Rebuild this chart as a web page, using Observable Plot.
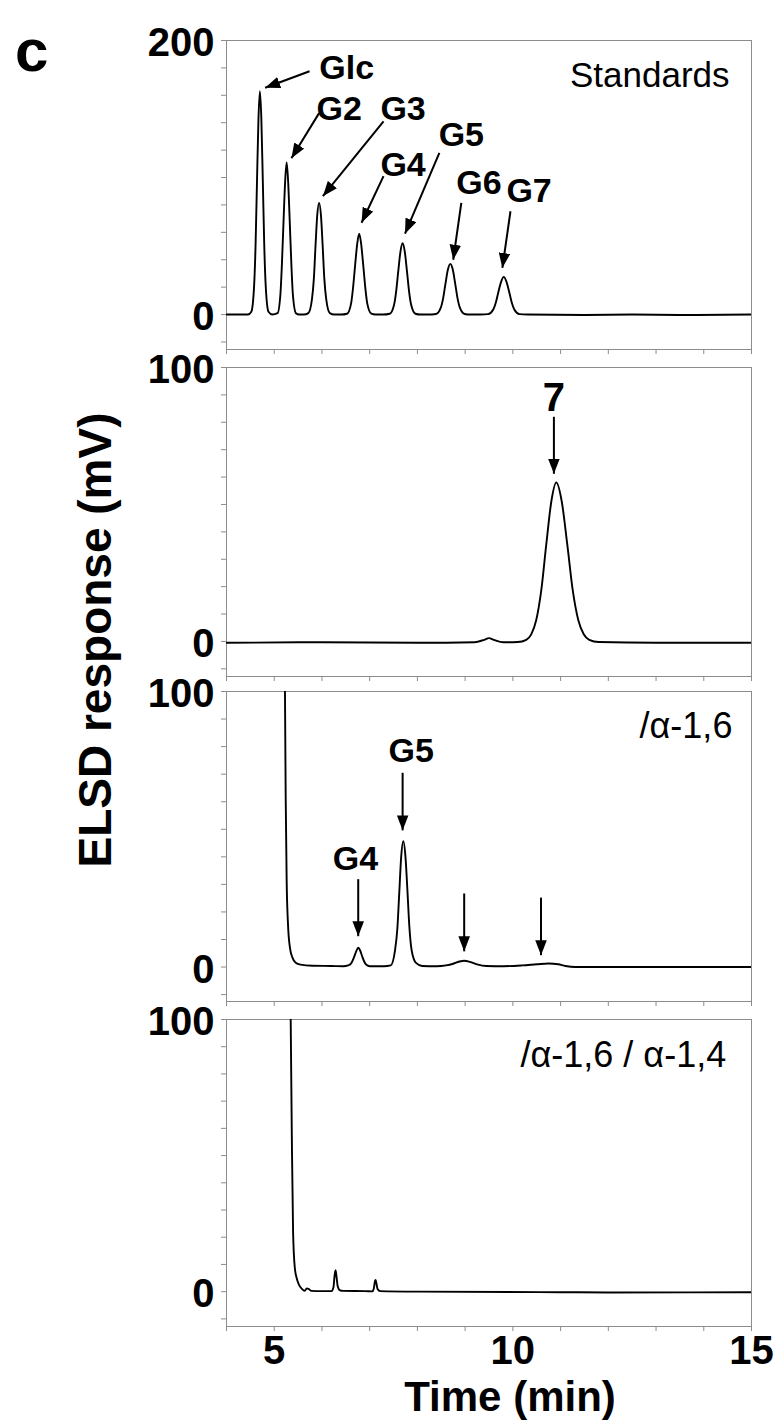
<!DOCTYPE html>
<html><head><meta charset="utf-8">
<script src="https://cdn.jsdelivr.net/npm/d3@7"></script>
<script src="https://cdn.jsdelivr.net/npm/@observablehq/plot@0.6"></script>
<style>
body{margin:0;background:#fff;}
#wrap{position:relative;width:780px;height:1422px;overflow:hidden;font-family:"Liberation Sans",Arial,sans-serif;color:#000;}
.abs{position:absolute;white-space:nowrap;font-weight:bold;}
.abs svg{display:block;}
</style></head><body><div id="wrap"></div>
<script>
// ---------- data ----------
// Panel 1: Standards
const stdTime = [4.0,4.45,4.52,4.58,4.61,4.64,4.67,4.70,4.73,4.76,4.79,4.82,4.88,4.96,
  5.07,5.13,5.16,5.195,5.23,5.26,5.29,5.325,5.36,5.39,5.455,5.52,
  5.62,5.715,5.79,5.83,5.865,5.90,5.94,5.98,6.015,6.05,6.09,6.165,6.26,
  6.40,6.525,6.61,6.65,6.695,6.74,6.78,6.82,6.865,6.91,6.95,7.035,7.12,
  7.28,7.42,7.51,7.555,7.60,7.645,7.69,7.735,7.78,7.825,7.87,7.96,8.06,
  8.22,8.39,8.49,8.54,8.59,8.64,8.69,8.74,8.79,8.84,8.89,8.99,9.1,
  9.32,9.48,9.59,9.645,9.70,9.755,9.81,9.865,9.92,9.975,10.03,10.14,10.3,
  11.5,12.5,13.5,15.0];
const stdResp = [0,0,2,22,52,99,143,163,143,99,52,22,2,0,
  1,15,36,68,98,111,98,68,36,15,1,0,
  0,1,11,26,50,72,81.5,72,50,26,11,1,0,
  0,0.6,8,19,36,52,59,52,36,19,8,0.6,0,
  0,0.6,7,17,32,46,52,46,32,17,7,0.6,0,
  0,0.4,5,12,23,33,37,33,23,12,5,0.4,0,
  0,0.3,3.7,9,17,24,27.5,24,17,9,3.7,0.3,0,
  -0.3,0,-0.3,0];
// Panel 2: compound 7
const c7Time = [4.0,6.0,8.0,9.2,9.4,9.5,9.6,9.8,10.1,10.28,10.385,10.49,10.595,10.70,10.805,10.91,
  11.025,11.14,11.255,11.37,11.485,11.6,11.8,13.0,15.0];
const c7Resp = [-0.5,-0.3,-0.5,-0.3,0.6,1.2,0.6,-0.3,-0.2,0.6,2.6,7.8,18.6,35.4,51,58,
  51,35.4,18.6,7.8,2.6,0.6,-0.2,-0.5,-0.5];
// Panel 3: /α-1,6
const a16Time = [5.20,5.225,5.24,5.26,5.29,5.33,5.38,5.45,5.55,5.8,6.2,6.45,6.55,6.62,6.67,6.72,6.76,6.80,6.84,6.88,6.93,7.0,7.30,
  7.44,7.53,7.58,7.62,7.66,7.705,7.75,7.79,7.83,7.88,7.97,8.1,
  8.4,8.6,8.75,8.88,8.98,9.1,9.25,9.45,9.8,10.2,10.5,10.75,10.95,11.1,11.3,15.0];
const a16Resp = [140,100,62,32,15,7,3.5,1.6,0.9,0.5,0.4,0.3,0.6,1.6,3.5,5.8,7,6,4,2.2,0.8,0.3,0.3,
  0.6,6,14,27,40,45.7,40,28,15,6,1.5,0.4,
  0.3,0.6,1.2,2.0,2.3,1.9,1.0,0.4,0.3,0.6,1.0,1.3,1.0,0.4,0,0];
// Panel 4: /α-1,6 / α-1,4
const a1614Time = [5.33,5.345,5.37,5.395,5.43,5.47,5.52,5.58,5.64,5.68,5.72,5.78,6.0,6.20,6.24,6.265,6.285,6.305,6.33,6.37,6.45,
  6.9,7.06,7.09,7.11,7.125,7.14,7.165,7.22,8.0,11.0,12.0,15.0];
const a1614Resp = [140,100,55,22,9,5,2.5,1,0.3,1.2,1.0,0.3,0.2,0.2,1.5,6,7.9,5.5,2,0.6,0.3,
  0.2,0.1,1.5,3.8,4.3,3.2,1.0,0.2,0,-0.2,-0.3,-0.2];

// annotation labels and arrows
const stdLabels = ["Glc","G2","G3","G4","G5","G6","G7"];
const stdLabelX = [6.52,6.36,7.70,7.70,8.92,9.29,10.34];
const stdLabelY = [180,150,150,109,131,96,90];
const stdArrowFrom = [[5.74,177.6],[5.94,147],[7.29,141],[7.29,101],[8.46,118],[8.92,81.5],[9.95,75.4]];
const stdArrowTo   = [[4.81,165.5],[5.36,114],[6.02,86.4],[6.83,67],[7.74,59],[8.75,40],[9.78,34]];

const c7Labels = ["7"]; const c7LabelX = [10.86]; const c7LabelY = [88.7];
const c7ArrowFrom = [[10.86,82]]; const c7ArrowTo = [[10.86,61.2]];

const a16Labels = ["G4","G5"]; const a16LabelX = [6.70,7.87]; const a16LabelY = [39,78.2];
const a16ArrowFrom = [[6.76,31.9],[7.69,70.5],[8.98,26.7],[10.59,25.2]];
const a16ArrowTo   = [[6.76,11.2],[7.69,49.6],[8.98,5.7],[10.59,4.3]];

const panelTitles = ["Standards","","/α-1,6","/α-1,6 / α-1,4"];
const panelTitleX = [14.54,null,14.6,14.47];
const panelTitleY = [174,null,87.3,86.8];

const xDomain = [4,15];
const xMinorTicks = [4,5,6,7,8,9,10,11,12,13,14,15];
const xTickLabels = [5,10,15];

// ---------- drawing ----------
const wrap = document.getElementById("wrap");
const FONT = "'Liberation Sans', Arial, Helvetica, sans-serif";
const noLabel = () => "";

function zip(xs, ys){ return xs.map((x,i)=>({t:x, v:ys[i]})); }

function fixMarkers(svg){
  svg.querySelectorAll("marker").forEach(m=>{
    m.setAttribute("viewBox","-15 -6 15 12");
    m.setAttribute("markerUnits","userSpaceOnUse");
    m.setAttribute("markerWidth","15");
    m.setAttribute("markerHeight","12");
    m.setAttribute("fill","black");
    m.setAttribute("stroke","none");
    const p = m.querySelector("path");
    if (p) p.setAttribute("d","M0,0L-15,-5.8L-15,5.8Z");
  });
}

function panel(cfg){
  const data = zip(cfg.t, cfg.v);
  const arrows = cfg.from.map((f,i)=>({x1:f[0],y1:f[1],x2:cfg.to[i][0],y2:cfg.to[i][1]}));
  const labels = cfg.labels.map((s,i)=>({s, x:cfg.lx[i], y:cfg.ly[i]}));
  const title = cfg.title ? [{s:cfg.title, x:cfg.titleX, y:cfg.titleY}] : [];
  const yMinor = d3.range(cfg.yDomain[0] < -20 ? -20 : -10, cfg.yMax + 0.001, cfg.yStep);
  const svg = Plot.plot({
    width: 780, height: cfg.height,
    marginLeft: 226, marginRight: 29, marginTop: cfg.mt, marginBottom: cfg.mb,
    x: {domain: xDomain},
    y: {domain: cfg.yDomain},
    style: {background:"transparent", overflow:"visible", fontFamily: FONT, fontWeight:"bold", fontSize:"40px", color:"black"},
    marks: [
      Plot.axisY(yMinor, {tickSize:5, stroke:"#8c8c8c", tickFormat:noLabel, label:null}),
      Plot.axisY([0, cfg.yMax], {tickSize:0, tickPadding:12, label:null, dy:3}),
      Plot.axisX(xMinorTicks, {tickSize:5, stroke:"#8c8c8c", tickFormat:noLabel, label:null}),
      cfg.xLabels ? Plot.axisX(xTickLabels, {tickSize:0, tickPadding:9, label:null}) : null,
      Plot.frame({stroke:"#8c8c8c", strokeWidth:1}),
      Plot.line(data, {x:"t", y:"v", stroke:"black", strokeWidth:1.9, curve:"monotone-x", clip:true}),
      Plot.link(arrows, {x1:"x1", y1:"y1", x2:"x2", y2:"y2", stroke:"black", strokeWidth:2, markerEnd:"arrow"}),
      Plot.text(labels, {x:"x", y:"y", text:"s", fontSize: cfg.labelSize, fontWeight:"bold", fill:"black"}),
      Plot.text(title, {x:"x", y:"y", text:"s", textAnchor:"end", fontSize: cfg.titleSize, fontWeight:"normal", fill:"black"})
    ]
  });
  fixMarkers(svg);
  const div = document.createElement("div");
  div.className = "abs";
  div.style.left = "0px"; div.style.top = cfg.top + "px";
  div.appendChild(svg);
  wrap.appendChild(div);
}

panel({t:stdTime, v:stdResp, yDomain:[-25.5,200], yMax:200, yStep:20, top:0, height:358, mt:40, mb:9,
  from:stdArrowFrom, to:stdArrowTo, labels:stdLabels, lx:stdLabelX, ly:stdLabelY, labelSize:34,
  title:panelTitles[0], titleX:panelTitleX[0], titleY:panelTitleY[0], titleSize:35});
panel({t:c7Time, v:c7Resp, yDomain:[-12.8,100], yMax:100, yStep:10, top:358, height:326, mt:9, mb:8,
  from:c7ArrowFrom, to:c7ArrowTo, labels:c7Labels, lx:c7LabelX, ly:c7LabelY, labelSize:40,
  title:null});
panel({t:a16Time, v:a16Resp, yDomain:[-12.5,100], yMax:100, yStep:10, top:684, height:326, mt:7, mb:9,
  from:a16ArrowFrom, to:a16ArrowTo, labels:a16Labels, lx:a16LabelX, ly:a16LabelY, labelSize:34,
  title:panelTitles[2], titleX:panelTitleX[2], titleY:panelTitleY[2], titleSize:36});
panel({t:a1614Time, v:a1614Resp, yDomain:[-12.8,100], yMax:100, yStep:10, top:1010, height:376, mt:9, mb:60,
  from:[], to:[], labels:[], lx:[], ly:[], labelSize:34, xLabels:true,
  title:panelTitles[3], titleX:panelTitleX[3], titleY:panelTitleY[3], titleSize:36});

// Figure letter and axis titles
function addText(txt, css){
  const d = document.createElement("div");
  d.className = "abs"; d.textContent = txt;
  Object.assign(d.style, css);
  wrap.appendChild(d);
}
addText("c", {left:"15px", top:"21px", fontSize:"60px", lineHeight:"60px"});
addText("Time (min)", {left:"510px", top:"1373px", fontSize:"42px", lineHeight:"48px", transform:"translateX(-50%)"});
addText("ELSD response (mV)", {left:"95px", top:"640px", fontSize:"46px", lineHeight:"46px", transform:"translate(-50%,-50%) rotate(-90deg)"});
</script>
</body></html>
